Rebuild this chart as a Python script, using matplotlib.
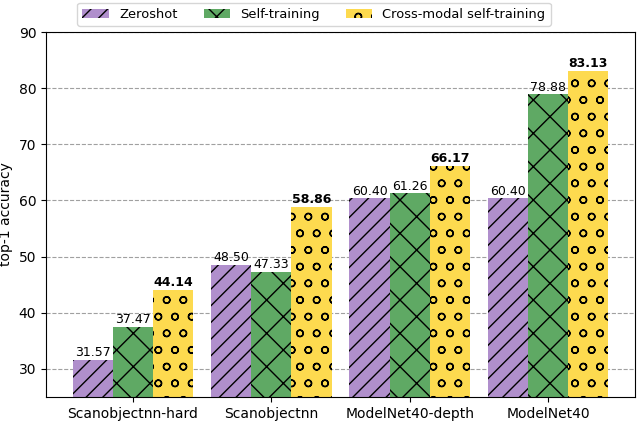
import numpy as np
import matplotlib
matplotlib.use("Agg")
from matplotlib import pyplot as plt

# data
datasets = ["Scanobjectnn-hard", "Scanobjectnn", "ModelNet40-depth", "ModelNet40"]
zeroshot = [31.57, 48.50, 60.40, 60.40]
self_training = [37.47, 47.33, 61.26, 78.88]
cross_modal = [44.14, 58.86, 66.17, 83.13]
series_names = ["Zeroshot", "Self-training", "Cross-modal self-training"]

fig = plt.figure(figsize=(6.38, 4.22), dpi=100)
ax = fig.add_axes([46 / 638, 1 - 397 / 422, 589 / 638, 365 / 422])

x = np.arange(len(datasets))
w = 0.29

b1 = ax.bar(x - w, zeroshot, w, color="#b08fcc", edgecolor="black", linewidth=0,
            hatch="//", label=series_names[0])
b2 = ax.bar(x, self_training, w, color="#5fa964", edgecolor="black", linewidth=0,
            hatch="x", label=series_names[1])
b3 = ax.bar(x + w, cross_modal, w, color="#fdda4f", edgecolor="black", linewidth=0,
            hatch="o", label=series_names[2])

# value labels on top of the bars, bold for the proposed method
ax.bar_label(b1, labels=["%.2f" % v for v in zeroshot], fontsize=9, padding=0.5)
ax.bar_label(b2, labels=["%.2f" % v for v in self_training], fontsize=9, padding=0.5)
ax.bar_label(b3, labels=["%.2f" % v for v in cross_modal], fontsize=9,
             padding=0.5, fontweight="bold")

ax.set_ylim(25, 90)
ax.set_yticks(np.arange(30, 91, 10))
ax.set_xticks(x)
ax.set_xticklabels(datasets, fontsize=10)
ax.tick_params(axis="y", labelsize=10)
ax.set_ylabel("top-1 accuracy", fontsize=10)
ax.yaxis.grid(True, linestyle="--", color="#a0a0a0", linewidth=0.8)
ax.set_axisbelow(True)

fig.legend(loc="upper center", bbox_to_anchor=(0.492, 1.0), ncol=3,
           fontsize=9.4, borderaxespad=0.2)

fig.savefig("out.png", dpi=100)
